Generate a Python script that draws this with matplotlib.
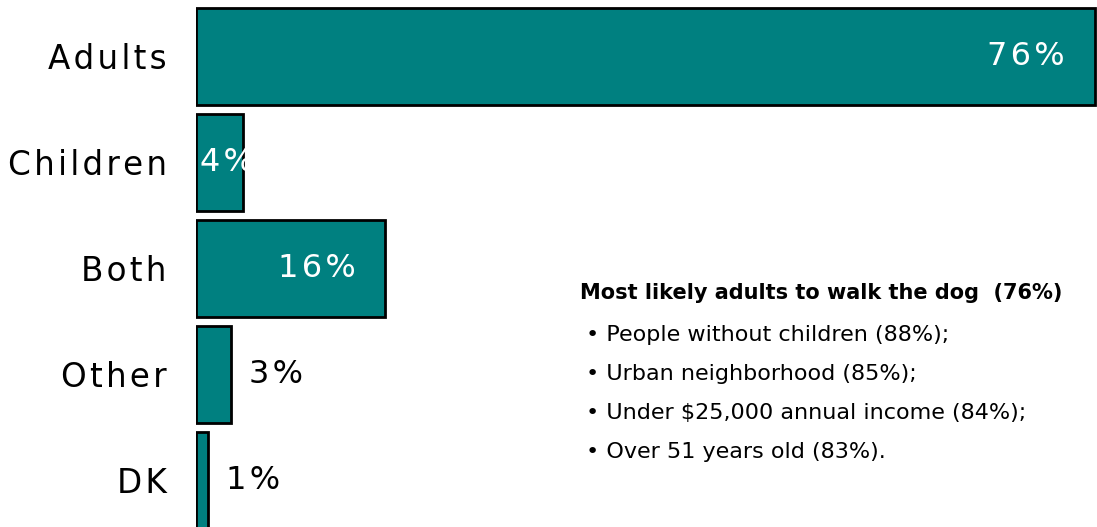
import matplotlib.pyplot as plt

categories = ['Adults', 'Children', 'Both', 'Other', 'DK']
values = [76, 4, 16, 3, 1]

note_title = 'Most likely adults to walk the dog  (76%)'
note_items = [
    'People without children (88%);',
    'Urban neighborhood (85%);',
    'Under $25,000 annual income (84%);',
    'Over 51 years old (83%).',
]

teal = '#008080'


def spaced(s):
    # open tracking between letters with hair spaces
    return '\u200a'.join(s)


fig = plt.figure(figsize=(10.97, 5.27), dpi=100)
ax = fig.add_axes([196 / 1097, 0, 1 - 196 / 1097, 1])

ypos = list(range(len(categories)))
ax.barh(ypos, values, height=0.915, color=teal, edgecolor='black', linewidth=2)
ax.set_xlim(0, 76.2)
ax.set_ylim(4.44, -0.533)

ax.set_yticks(ypos)
ax.set_yticklabels([spaced(c) for c in categories], fontsize=23.5, family='DejaVu Sans')
ax.tick_params(axis='y', length=0, pad=21)
ax.set_xticks([])
for s in ax.spines.values():
    s.set_visible(False)

for y, v in zip(ypos, values):
    lab = spaced(f'{v}%')
    if v >= 10:
        ax.text(v - 2.5, y, lab, ha='right', va='center', color='white', fontsize=23)
    elif v >= 4:
        ax.text(0.3, y, lab, ha='left', va='center', color='white', fontsize=23)
    else:
        ax.text(v + 1.5, y, lab, ha='left', va='center', color='black', fontsize=23)

fig.text(580 / 1097, 1 - 293 / 527, note_title, fontsize=15, fontweight='bold',
         family='DejaVu Sans', va='center', ha='left')
for i, item in enumerate(note_items):
    fig.text(586 / 1097, 1 - (335 + 39 * i) / 527, '\u2022 ' + item, fontsize=16,
             family='DejaVu Sans', va='center', ha='left')

fig.savefig('out.png', dpi=100)
